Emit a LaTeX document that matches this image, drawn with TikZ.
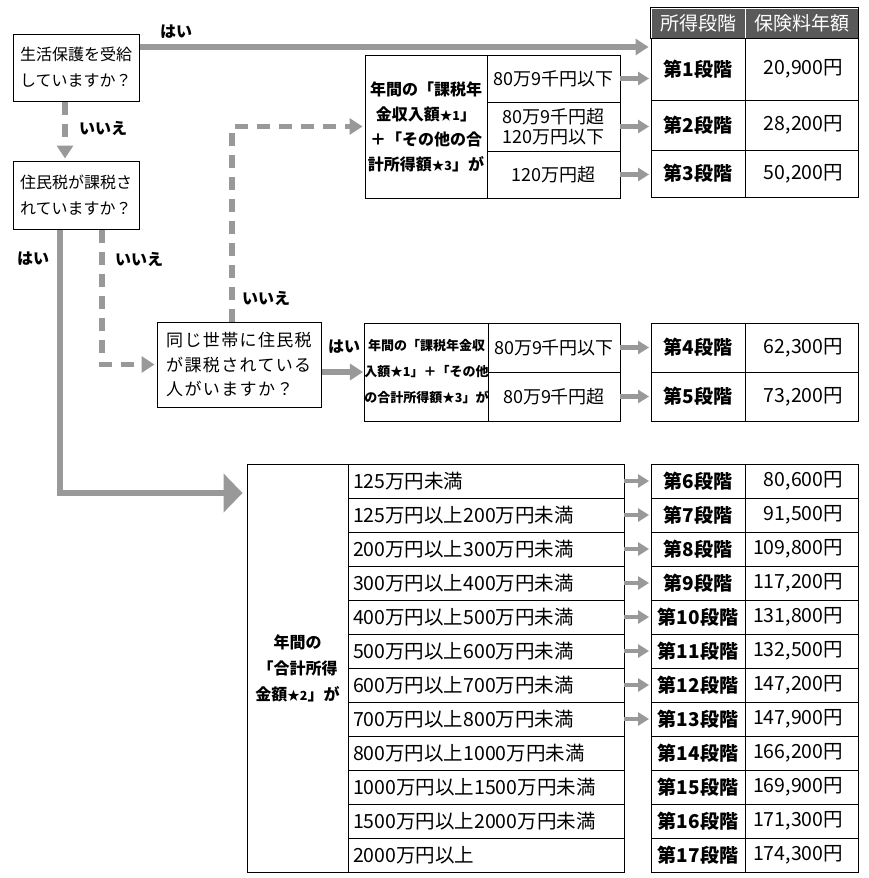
\documentclass[tikz,border=0pt]{standalone}
\usepackage{fontspec}
\setmainfont{Noto Sans CJK JP}
\usetikzlibrary{arrows.meta}
\definecolor{arrowgray}{gray}{0.6}
\definecolor{headgray}{gray}{0.35}
\newcommand\starnote[1]{{\fontsize{12.5}{12}\selectfont ★#1}}

\begin{document}
\begin{tikzpicture}[x=1pt,y=-1pt,
  qbox/.style={draw,line width=1pt,inner sep=0pt,align=left,font=\fontsize{16}{26}\selectfont},
  cell/.style={draw,line width=0.9pt,inner sep=0pt,align=center},
  desc/.style={cell,font=\bfseries\fontsize{16}{25}\selectfont},
  rng/.style={cell,font=\fontsize{18}{20}\selectfont},
  rowc/.style={cell,minimum width=276pt,minimum height=34pt,text width=266pt,align=left,font=\fontsize{19.5}{20}\selectfont},
  stage/.style={cell,minimum width=94pt,font=\bfseries\fontsize{19}{20}\selectfont},
  val/.style={cell,minimum width=113pt,text width=83pt,align=right,font=\fontsize{19.5}{20}\selectfont},
  hdr/.style={cell,draw=white,fill=headgray,text=white,minimum height=30pt,font=\fontsize{19}{20}\selectfont},
  lbl/.style={inner sep=0pt,font=\bfseries\fontsize{16}{16}\selectfont},
  yes/.style={draw=arrowgray,line width=5.5pt,shorten >=2pt,-{Triangle[length=13pt,width=16pt]}},
  no/.style={yes,dash pattern=on 13pt off 9pt},
  hop/.style={draw=arrowgray,line width=4.5pt,shorten >=1.5pt,-{Triangle[length=11pt,width=13pt]}}]
\useasboundingbox (0,0) rectangle (868,878);
\node[qbox,minimum width=126pt,minimum height=67pt] (q1) at (76,67.5) {生活保護を受給\\していますか？};
\node[qbox,minimum width=126pt,minimum height=68pt] (q2) at (76,195) {住民税が課税さ\\れていますか？};
\node[qbox,minimum width=164pt,minimum height=85pt,font=\fontsize{17}{24.5}\selectfont\addfontfeature{LetterSpace=8}] (q3) at (239,364.5) {同じ世帯に住民税\\が課税されている\\人がいますか？};
\node[desc,minimum width=122pt,minimum height=143pt] (ta) at (426,126.5) {年間の「課税年\\金収入額\starnote{1}」\\＋「その他の合\\計所得額\starnote{3}」が};
\node[rng,minimum width=133pt,minimum height=47pt] (ta1) at (553.5,78.5) {80万9千円以下};
\node[rng,minimum width=133pt,minimum height=49pt] (ta2) at (553.5,126.5) {80万9千円超\\120万円以下};
\node[rng,minimum width=133pt,minimum height=47pt] (ta3) at (553.5,174.5) {120万円超};
\node[hdr,minimum width=94pt] (h1) at (698,23) {所得段階};
\node[hdr,minimum width=113pt] (h2) at (801.5,23) {保険料年額};
\draw[line width=0.9pt] (h1.north west) rectangle (h2.south east);
\node[stage,minimum height=62pt] (s1) at (698,69) {第1段階};
\node[val,minimum height=62pt] (v1) at (801.5,69) {\llap{20,900円}};
\node[stage,minimum height=50pt] (s2) at (698,125) {第2段階};
\node[val,minimum height=50pt] (v2) at (801.5,125) {\llap{28,200円}};
\node[stage,minimum height=47pt] (s3) at (698,173.5) {第3段階};
\node[val,minimum height=47pt] (v3) at (801.5,173.5) {\llap{50,200円}};
\node[desc,minimum width=123pt,minimum height=98pt,font=\bfseries\fontsize{13}{26}\selectfont] (tb) at (426.5,372) {年間の「課税年金収\\入額\starnote{1}」＋「その他\\の合計所得額\starnote{3}」が};
\node[rng,minimum width=132pt,minimum height=49pt] (tb1) at (554,347.5) {80万9千円以下};
\node[rng,minimum width=132pt,minimum height=49pt] (tb2) at (554,396.5) {80万9千円超};
\node[stage,minimum height=49pt] (s4) at (698,347.5) {第4段階};
\node[val,minimum height=49pt] (v4) at (801.5,347.5) {\llap{62,300円}};
\node[stage,minimum height=49pt] (s5) at (698,396.5) {第5段階};
\node[val,minimum height=49pt] (v5) at (801.5,396.5) {\llap{73,200円}};
\node[desc,minimum width=101pt,minimum height=408pt,font=\bfseries\fontsize{16}{26}\selectfont] (bt) at (297.5,668) {年間の\\「合計所得\\金額\starnote{2}」が};
\foreach \ri/\si/\txt/\amt in {1/6/125万円未満/{80,600円},2/7/125万円以上200万円未満/{91,500円},
    3/8/200万円以上300万円未満/{109,800円},4/9/300万円以上400万円未満/{117,200円},
    5/10/400万円以上500万円未満/{131,800円},6/11/500万円以上600万円未満/{132,500円},
    7/12/600万円以上700万円未満/{147,200円},8/13/700万円以上800万円未満/{147,900円},
    9/14/800万円以上1000万円未満/{166,200円},10/15/1000万円以上1500万円未満/{169,900円},
    11/16/1500万円以上2000万円未満/{171,300円},12/17/2000万円以上/{174,300円}}{
  \node[rowc] (r\ri) at (486,447+34*\ri) {\txt};
  \node[stage,minimum height=34pt] (s\si) at (698,447+34*\ri) {第\si 段階};
  \node[val,minimum height=34pt] (v\si) at (801.5,447+34*\ri) {\llap{\amt}};
  \ifnum\ri<9 \draw[hop] (r\ri.east) -- (s\si.west); \fi
}
\coordinate (y1) at (0,47);
\coordinate (y2) at (0,493);
\draw[yes] (q1.east |- y1) -- (s1.west |- y1);
\draw[no] ([xshift=-11pt]q1.south) -- ([xshift=-11pt]q2.north);
\draw[yes,shorten >=4pt,-{Triangle[length=19pt,width=38pt]}] ([xshift=-16pt]q2.south) |- (bt.west |- y2);
\draw[no] ([xshift=26pt]q2.south) |- (q3.west);
\draw[no] ([xshift=-7pt]q3.north) |- (ta.west);
\draw[yes,shorten >=1pt] (q3.east |- tb.west) -- (tb.west);
\draw[hop] (ta1.east) -- (ta1.east -| s1.west);
\draw[hop] (ta2.east) -- (ta2.east -| s2.west);
\draw[hop] (ta3.east) -- (ta3.east -| s3.west);
\draw[hop] (tb1.east) -- (tb1.east -| s4.west);
\draw[hop] (tb2.east) -- (tb2.east -| s5.west);
\node[lbl] (l1) at (176,32) {はい};
\node[lbl] (l2) at (103,128) {いいえ};
\node[lbl] (l3) at (33,259) {はい};
\node[lbl] (l4) at (139,259) {いいえ};
\node[lbl] (l5) at (266,298) {いいえ};
\node[lbl] (l6) at (344,347) {はい};
\end{tikzpicture}
\end{document}
